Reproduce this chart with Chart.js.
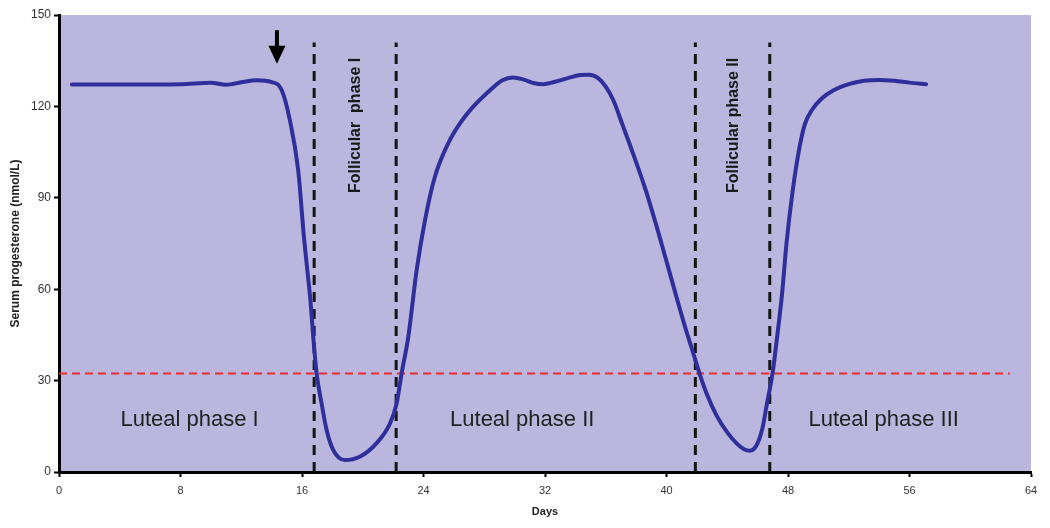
<!DOCTYPE html>
<html>
<head>
<meta charset="utf-8">
<script src="https://cdn.jsdelivr.net/npm/chart.js@4"></script>
<style>
  html, body { margin: 0; padding: 0; background: #ffffff; }
  #wrap { width: 1050px; height: 528px; }
</style>
</head>
<body>
<div id="wrap"><canvas id="c" width="1050" height="528"></canvas></div>
<script>
// ---- data ----
const days = [0.85, 4, 8, 10, 11, 12, 13, 14, 14.66, 15.2, 15.75, 16.13, 16.57, 16.74, 16.96, 17.29, 17.62, 18.06, 18.83,
  19.8, 20.9, 21.8, 22.23, 22.56, 23.0, 23.55, 24.1, 24.75, 25.63, 26.4, 27.2, 28.4, 29.2, 29.9, 30.6, 31.3,
  31.9, 32.6, 33.5, 34.3, 34.9, 35.5, 36, 36.5, 37.1, 37.8, 38.6, 39.5, 40.4, 41.2, 41.7, 42.2, 42.7, 43.3, 44, 44.6,
  45.1, 45.5, 45.9, 46.3, 46.6, 47.0, 47.3, 47.6, 47.9, 48.3, 48.7, 49.1, 49.6, 50.2, 51, 52, 53, 54, 55, 56, 57.1];
const progesterone = [127.2, 127.2, 127.3, 127.8, 127.1, 127.9, 128.6, 128.0, 125.4, 115.5, 99, 77, 55.4, 44.4, 32.4, 22.5, 13.8, 7.2, 3.9,
  5.0, 9.4, 16, 22.5, 32.4, 44.4, 66.3, 82.7, 96.9, 107.9, 114.4, 119.5, 125.4, 128.6, 129.5, 128.8, 127.6,
  127.3, 128, 129.3, 130.3, 130.4, 129.3, 126.5, 122, 114, 104.5, 93, 78, 62, 48, 40, 32, 25, 18.5, 13, 9.5,
  7.5, 7, 8.5, 14, 22, 33, 45, 58, 75, 92, 105, 114, 119, 122.5, 125.3, 127.3, 128.4, 128.7, 128.4, 127.8, 127.3];
const phaseBoundaryDays = [16.8, 22.2, 41.9, 46.8];
const boundaryTop = 141;
const thresholdValue = 32.3;
const thresholdEndDay = 62.6;
const arrowDay = 14.35;
const arrowFrom = 145;
const arrowTo = 134;
const xTicks = [0, 8, 16, 24, 32, 40, 48, 56, 64];
const yTicks = [0, 30, 60, 90, 120, 150];
const lutealLabels = ["Luteal phase I", "Luteal phase II", "Luteal phase III"];
const lutealLabelDays = [8.6, 30.5, 54.3];
const lutealLabelValue = 15.1;
const follicularLabels = ["Follicular  phase I", "Follicular phase II"];
const follicularLabelDays = [19.8, 44.7];
const follicularLabelValue = 91.6;
const xTitle = "Days";
const yTitle = "Serum progesterone (nmol/L)";

// ---- styles ----
const FONT = "'Liberation Sans', Arial, Helvetica, sans-serif";
const BG = "#bab6dd";
const CURVE = "#2f2f9c";

const curvePoints = days.map((d, i) => ({ x: d, y: progesterone[i] }));
const boundarySets = phaseBoundaryDays.map(d => ({
  data: [{ x: d, y: 0 }, { x: d, y: boundaryTop }],
  borderColor: "#141414", borderWidth: 3, borderDash: [10, 7],
  pointRadius: 0, fill: false, order: 2
}));

const bgPlugin = {
  id: "bg",
  beforeDraw(chart) {
    const { ctx, chartArea: a } = chart;
    ctx.save();
    ctx.fillStyle = BG;
    ctx.fillRect(a.left, a.top, a.right - a.left, a.bottom - a.top);
    ctx.restore();
  }
};

const annoPlugin = {
  id: "anno",
  afterDraw(chart) {
    const { ctx } = chart;
    const xs = chart.scales.x, ys = chart.scales.y;
    ctx.save();
    // Luteal labels
    ctx.fillStyle = "#222";
    ctx.font = "22px " + FONT;
    ctx.textAlign = "center";
    ctx.textBaseline = "alphabetic";
    lutealLabels.forEach((t, i) => {
      ctx.fillText(t, xs.getPixelForValue(lutealLabelDays[i]), ys.getPixelForValue(lutealLabelValue));
    });
    // Follicular labels (rotated)
    ctx.font = "bold 16px " + FONT;
    ctx.fillStyle = "#1a1a1a";
    follicularLabels.forEach((t, i) => {
      ctx.save();
      ctx.translate(xs.getPixelForValue(follicularLabelDays[i]), ys.getPixelForValue(follicularLabelValue));
      ctx.rotate(-Math.PI / 2);
      ctx.textAlign = "left";
      ctx.textBaseline = "alphabetic";
      ctx.fillText(t, 0, 0);
      ctx.restore();
    });
    // Arrow
    const ax = xs.getPixelForValue(arrowDay);
    const ay0 = ys.getPixelForValue(arrowFrom);
    const ay1 = ys.getPixelForValue(arrowTo);
    const headH = 18;
    ctx.fillStyle = "#000";
    ctx.fillRect(ax - 2, ay0, 4, (ay1 - ay0) - headH + 2);
    ctx.beginPath();
    ctx.moveTo(ax - 8.5, ay1 - headH);
    ctx.lineTo(ax + 8.5, ay1 - headH);
    ctx.lineTo(ax, ay1);
    ctx.closePath();
    ctx.fill();
    ctx.restore();
  }
};

new Chart(document.getElementById("c"), {
  type: "line",
  data: {
    datasets: [
      {
        data: curvePoints, borderColor: CURVE, borderWidth: 4, pointRadius: 0,
        cubicInterpolationMode: "monotone", fill: false, order: 0,
        borderCapStyle: "round", borderJoinStyle: "round"
      },
      ...boundarySets,
      {
        data: [{ x: 0, y: thresholdValue }, { x: thresholdEndDay, y: thresholdValue }],
        borderColor: "#ec2b2f", borderWidth: 2, borderDash: [8, 5],
        pointRadius: 0, fill: false, order: 1
      }
    ]
  },
  options: {
    responsive: false,
    animation: false,
    devicePixelRatio: 1,
    layout: { padding: { top: 15, right: 19, left: 0, bottom: 0 } },
    plugins: { legend: { display: false }, tooltip: { enabled: false } },
    scales: {
      x: {
        type: "linear", min: 0, max: 64,
        afterBuildTicks: s => { s.ticks = xTicks.map(v => ({ value: v })); },
        afterFit: s => { s.height = 56; },
        grid: { drawOnChartArea: false, drawTicks: true, tickLength: 5, tickColor: "#000", tickWidth: 2 },
        border: { display: true, color: "#000", width: 3 },
        ticks: { color: "#333", font: { family: FONT, size: 11 }, padding: 7, maxRotation: 0 },
        title: { display: true, text: xTitle, color: "#222", font: { family: FONT, size: 11, weight: "bold" }, padding: { top: 0, bottom: 9 } }
      },
      y: {
        type: "linear", min: 0, max: 150,
        afterBuildTicks: s => { s.ticks = yTicks.map(v => ({ value: v })); },
        afterFit: s => { s.width = 59; },
        grid: { drawOnChartArea: false, drawTicks: true, tickLength: 5, tickColor: "#000", tickWidth: 2 },
        border: { display: true, color: "#000", width: 3 },
        ticks: { color: "#333", font: { family: FONT, size: 12 }, padding: 3 },
        title: { display: true, text: yTitle, color: "#222", font: { family: FONT, size: 12, weight: "bold" }, padding: { top: 8, bottom: 0 } }
      }
    }
  },
  plugins: [bgPlugin, annoPlugin]
});
</script>
</body>
</html>
